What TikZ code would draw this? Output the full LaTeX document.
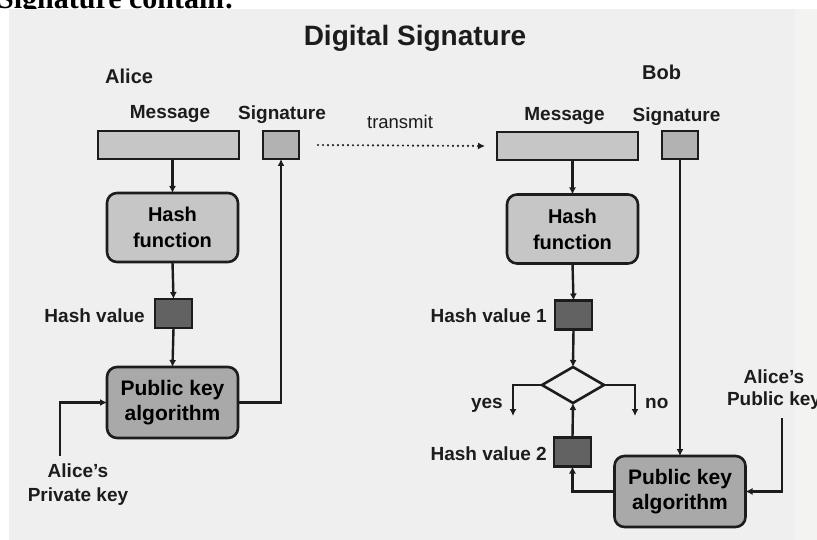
\documentclass[tikz,border=0pt]{standalone}
\usepackage{fontspec}
\setmainfont{Liberation Sans}
\newfontfamily\headserif{Liberation Serif}
\usetikzlibrary{arrows.meta,shapes.geometric}

\definecolor{panel}{HTML}{EFEFEF}
\definecolor{panelright}{HTML}{F3F3F1}
\definecolor{edgeclr}{HTML}{1C1C1C}
\definecolor{lightfill}{HTML}{C6C6C6}
\definecolor{sigfill}{HTML}{B2B2B2}
\definecolor{pkafill}{HTML}{A9A9A9}
\definecolor{darkfill}{HTML}{626262}

\tikzset{
  box/.style={draw=edgeclr, line width=2.6pt, inner sep=0pt, outer sep=0pt},
  msgbox/.style={box, fill=lightfill, minimum width=141pt, minimum height=28pt},
  sigbox/.style={box, fill=sigfill, minimum width=36pt, minimum height=28pt},
  hashbox/.style={box, fill=lightfill, rounded corners=10pt, minimum width=131pt,
    minimum height=69pt, align=center, font=\bfseries\fontsize{20}{26}\selectfont},
  pkabox/.style={box, fill=pkafill, rounded corners=10pt, minimum width=131pt,
    minimum height=71pt, align=center, font=\bfseries\fontsize{21}{25}\selectfont},
  valbox/.style={box, fill=darkfill, minimum width=37pt, minimum height=29pt},
  testbox/.style={box, fill=panel, diamond, minimum width=62pt, minimum height=36pt},
  lbl/.style={inner sep=0pt, text=edgeclr, font=\bfseries\fontsize{19}{23}\selectfont},
  conn/.style={draw=edgeclr, line width=2.4pt},
  arr/.style={conn, -{Latex[length=7pt,width=7pt]}},
}

\begin{document}
\begin{tikzpicture}[x=1pt, y=-1pt]
\useasboundingbox (0,0) rectangle (817,540);
\fill[white] (0,0) rectangle (817,540);

% heading line of the surrounding page, partly hidden by the panel
\node[anchor=base west, inner sep=0pt, font=\headserif\bfseries\fontsize{30}{34}\selectfont]
  (pagehead) at (-3,9) {Signature contain:};

% slide panel
\fill[panel] (9,9) rectangle (817,540);
\fill[panelright] (795,9) rectangle (817,540);

% title
\node[lbl, anchor=base, font=\bfseries\fontsize{28}{32}\selectfont] (title) at (415,46) {Digital Signature};

% ---------------- Alice ----------------
\node[lbl, anchor=base west, font=\bfseries\fontsize{20}{24}\selectfont] (alice) at (105,84) {Alice};
\node[lbl, anchor=base] (amsglbl) at (170,119) {Message};
\node[lbl, anchor=base] (asiglbl) at (282,120) {Signature};

\node[msgbox] (amsg) at (168.5,145) {};
\node[sigbox] (asig) at (281,145) {};
\node[hashbox] (ahash) at (172.5,227.5) {Hash\\function};
\node[valbox] (ahv) at (173.5,313.5) {};
\node[lbl, anchor=base east] (ahvlbl) at (145,322) {Hash value};
\node[pkabox] (apka) at (172.5,402.5) {Public key\\algorithm};

\node[lbl, align=center, font=\bfseries\fontsize{19}{24}\selectfont] (privlbl) at (78,485) {Alice's\\Private key};
\coordinate (privk) at (60,456);

\draw[arr] (ahash.north |- amsg.south) -- (ahash.north);
\draw[arr] (ahash.south) -- (ahv.north);
\draw[arr] (ahv.south) -- (apka.north);
\draw[arr] (apka.east) -| (asig.south);
\draw[arr] (privk) |- (apka.west);

% transmission to Bob
\node[inner sep=0pt, anchor=base, text=edgeclr, font=\fontsize{18.5}{22}\selectfont] (txlbl) at (400,129) {transmit};

% ---------------- Bob ----------------
\node[lbl, anchor=base west, font=\bfseries\fontsize{20}{24}\selectfont] (bob) at (642,80) {Bob};
\node[lbl, anchor=base] (bmsglbl) at (564.5,121) {Message};
\node[lbl, anchor=base] (bsiglbl) at (676.5,122) {Signature};

\node[msgbox] (bmsg) at (567.5,146) {};
\node[sigbox] (bsig) at (680,145) {};
\node[hashbox] (bhash) at (572.5,229) {Hash\\function};
\node[valbox] (bhv1) at (573.5,315) {};
\node[lbl, anchor=base east] (bhv1lbl) at (547,323) {Hash value 1};
\node[testbox] (cmp) at (573,385) {};
\node[valbox] (bhv2) at (572.5,452) {};
\node[lbl, anchor=base east] (bhv2lbl) at (547,460) {Hash value 2};
\node[pkabox] (bpka) at (680,491.5) {Public key\\algorithm};

\coordinate (yesend) at (513,416);
\coordinate (noend) at (635,416);
\node[lbl, anchor=base east] (yeslbl) at (503,408) {yes};
\node[lbl, anchor=base west] (nolbl) at (645,408) {no};

\node[lbl, align=center, font=\bfseries\fontsize{19}{22}\selectfont] (publbl) at (774,390) {Alice's\\Public key};
\coordinate (pubk) at (782,418);

\draw[conn, line cap=round, dash pattern=on 0pt off 5pt, -{Latex[length=7pt,width=7pt]}]
  ([xshift=19pt]asig.east) -- ([xshift=-12pt]bmsg.west);

\draw[arr] (bhash.north |- bmsg.south) -- (bhash.north);
\draw[arr] (bhash.south) -- (bhv1.north);
\draw[arr] (bhv1.south) -- (cmp.north);
\draw[arr] (cmp.west) -| (yesend);
\draw[arr] (cmp.east) -| (noend);
\draw[arr] (bhv2.north) -- (cmp.south);
\draw[arr] (bsig.south) -- (bpka.north);
\draw[arr] (bpka.west) -| (bhv2.south);
\draw[arr] (pubk) |- (bpka.east);
\end{tikzpicture}
\end{document}
